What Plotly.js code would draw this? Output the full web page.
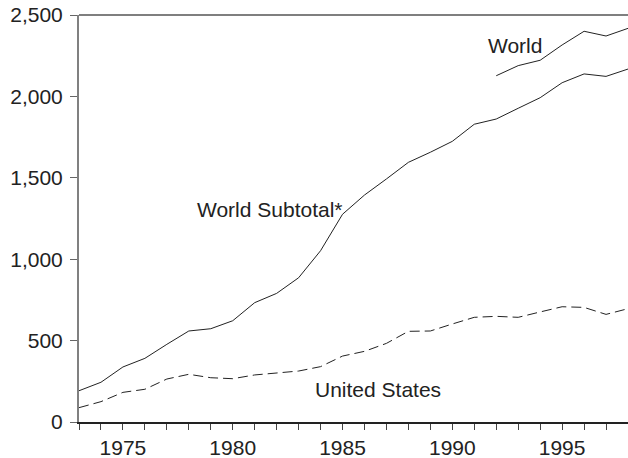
<!DOCTYPE html>
<html>
<head>
<meta charset="utf-8">
<script src="https://cdn.plot.ly/plotly-3.0.1.min.js"></script>
<style>html,body{margin:0;padding:0;background:#fff;}#chart{width:628px;height:458px;}</style>
</head>
<body>
<div id="chart"></div>
<script>
const years = [1973,1974,1975,1976,1977,1978,1979,1980,1981,1982,1983,1984,1985,1986,1987,1988,1989,1990,1991,1992,1993,1994,1995,1996,1997,1998];
const worldSubtotal = [192,244,338,391,477,559,573,622,733,790,886,1052,1276,1394,1493,1595,1657,1724,1829,1861,1927,1992,2084,2138,2123,2168];
const unitedStates = [88,125,182,201,264,293,272,266,289,299,313,340,405,434,483,557,559,602,643,649,643,676,708,704,661,696];
const worldYears = [1992,1993,1994,1995,1996,1997,1998];
const world = [2127,2189,2222,2316,2400,2371,2418];
const yTicks = [0,500,1000,1500,2000,2500];
const seriesLabels = {world: "World", subtotal: "World Subtotal*", us: "United States"};

const FONT = "'Liberation Sans', Arial, Helvetica, sans-serif";
const lineColor = "#222";

const traces = [
  {x: years, y: worldSubtotal, type: "scatter", mode: "lines", name: seriesLabels.subtotal,
   line: {color: lineColor, width: 1}},
  {x: worldYears, y: world, type: "scatter", mode: "lines", name: seriesLabels.world,
   line: {color: lineColor, width: 1}},
  {x: years, y: unitedStates, type: "scatter", mode: "lines", name: seriesLabels.us,
   line: {color: lineColor, width: 1, dash: "10px,5px"}}
];

const layout = {
  width: 628, height: 458,
  margin: {l: 79, r: 0, t: 15, b: 36, pad: 0},
  paper_bgcolor: "#fff", plot_bgcolor: "#fff",
  showlegend: false,
  font: {family: FONT, size: 21, color: "#222"},
  xaxis: {
    range: [1973, 1998], showgrid: false, zeroline: false,
    showline: true, linecolor: "#222", linewidth: 2,
    tickmode: "linear", tick0: 1975, dtick: 5,
    ticks: "outside", ticklen: 6, tickcolor: "#444", tickwidth: 1,
    minor: {dtick: 1, tick0: 1973, ticks: "outside", ticklen: 6, tickcolor: "#444", tickwidth: 1, showgrid: false},
    tickfont: {family: FONT, size: 21, color: "#222"}
  },
  yaxis: {
    range: [0, 2500], showgrid: false, zeroline: false,
    showline: true, linecolor: "#808080", linewidth: 2,
    tickmode: "array", tickvals: yTicks, tickformat: ",",
    ticks: "outside", ticklen: 7, tickcolor: "#666", tickwidth: 1,
    ticklabelstandoff: 3,
    tickfont: {family: FONT, size: 21, color: "#222"}
  },
  shapes: [
    {type: "line", xref: "paper", yref: "paper", x0: 0, x1: 1, y0: 1, y1: 1,
     line: {color: "#555", width: 1.5}}
  ],
  annotations: [
    {x: 1992.85, y: 2310, xref: "x", yref: "y", text: seriesLabels.world, showarrow: false,
     font: {family: FONT, size: 21, color: "#222"}, xanchor: "center", yanchor: "middle"},
    {x: 1981.72, y: 1308, xref: "x", yref: "y", text: seriesLabels.subtotal, showarrow: false,
     font: {family: FONT, size: 21, color: "#222"}, xanchor: "center", yanchor: "middle"},
    {x: 1986.62, y: 200, xref: "x", yref: "y", text: seriesLabels.us, showarrow: false,
     font: {family: FONT, size: 21, color: "#222"}, xanchor: "center", yanchor: "middle"}
  ]
};

Plotly.newPlot("chart", traces, layout, {displayModeBar: false, staticPlot: true});
</script>
</body>
</html>
